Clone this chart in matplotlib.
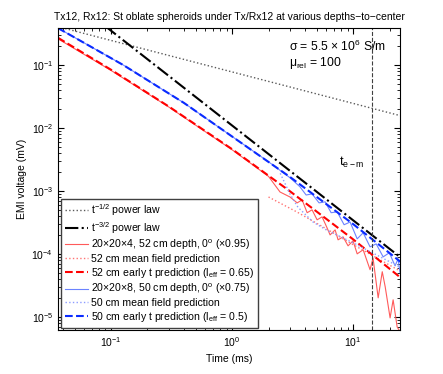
import numpy as np
from matplotlib import pyplot as plt

plt.rcParams['font.family'] = ['Liberation Sans', 'DejaVu Sans']
plt.rcParams['mathtext.default'] = 'regular'

# power law guide lines (end points)
t_pow = [0.0365, 24.4]
v_half = [0.406, 0.0157]
v_three_half = [1.60, 8.9e-5]

# 52 cm spheroid
t_red_early = [0.0365, 0.1, 0.3, 1, 3, 10, 25]
v_red_early = [0.27, 0.084, 0.0219, 4.6e-3, 9.9e-4, 1.7e-4, 4.1e-5]
t_red_mf = [2.0, 3.45, 6.0, 10, 25]
v_red_mf = [8.0e-4, 4.6e-4, 2.5e-4, 1.4e-4, 5.2e-5]
t_red = [0.0365, 0.1, 0.3, 1, 2, 2.49, 3.01, 3.45, 3.79, 4.17, 4.58, 5.04, 5.54,
         6.09, 6.45, 7.10, 7.51, 8.26, 9.08, 9.98, 10.8, 12.1, 13.8, 14.6, 16.1,
         17.4, 18.4, 20.2, 21.4, 23.1, 24.4]
v_red = [0.26, 0.082, 0.0215, 4.5e-3, 1.7e-3, 9.6e-4, 8.0e-4, 6.45e-4, 7.2e-4,
         4.5e-4, 5.0e-4, 3.47e-4, 3.87e-4, 2.59e-4, 2.0e-4, 2.4e-4, 1.67e-4,
         1.86e-4, 1.34e-4, 1.61e-4, 1.0e-4, 1.16e-4, 5.6e-5, 8.6e-5, 2.0e-5,
         5.2e-5, 3.0e-5, 9.6e-6, 1.86e-5, 6.9e-6, 5.8e-6]

# 50 cm spheroid
t_blue_early = [0.0365, 0.126, 0.4, 0.91, 3, 10, 25]
v_blue_early = [0.385, 0.1, 0.025, 8.3e-3, 1.67e-3, 2.97e-4, 7.3e-5]
t_blue_mf = [2.5, 3.0, 3.5, 4.67, 6.0, 10, 25]
v_blue_mf = [1.9e-3, 9e-4, 5.5e-4, 3.2e-4, 2.4e-4, 1.5e-4, 6e-5]
t_blue = [0.0365, 0.126, 0.4, 0.91, 2, 3.02, 3.64, 4.09, 4.58, 5.23, 5.87, 6.58,
          7.38, 8.42, 9.44, 10.8, 12.1, 13.8, 15.5, 17.7, 19.9, 22.2, 23.5, 24.4]
v_blue = [0.385, 0.1, 0.025, 8.3e-3, 2.9e-3, 1.61e-3, 1.16e-3, 8.6e-4, 8.96e-4,
          6.45e-4, 6.7e-4, 4.5e-4, 4.65e-4, 2.9e-4, 3.2e-4, 1.73e-4, 2.16e-4,
          1.29e-4, 1.44e-4, 8.95e-5, 1.04e-4, 6.45e-5, 8.3e-5, 5.0e-5]

t_em = 14.3

fig = plt.figure(figsize=(4.43, 3.74), dpi=100)
ax = fig.add_axes([0.131, 0.118, 0.772, 0.807])

ax.loglog(t_pow, v_half, ':', color='0.35', lw=1, label='t$^{-1/2}$ power law')
ax.loglog(t_pow, v_three_half, '-.', color='k', lw=1.5, label='t$^{-3/2}$ power law')
ax.loglog(t_red, v_red, '-', color='#ff5a5a', lw=0.8,
          label='20×20×4, 52 cm depth, 0$^o$ (×0.95)')
ax.loglog(t_red_mf, v_red_mf, ':', color='#ff7373', lw=1,
          label='52 cm mean field prediction')
ax.loglog(t_red_early, v_red_early, '--', color='#ff0000', lw=1.5,
          label='52 cm early t prediction (l$_{eff}$ = 0.65)')
ax.loglog(t_blue, v_blue, '-', color='#6b83ff', lw=0.8,
          label='20×20×8, 50 cm depth, 0$^o$ (×0.75)')
ax.loglog(t_blue_mf, v_blue_mf, ':', color='#8c9cff', lw=1,
          label='50 cm mean field prediction')
ax.loglog(t_blue_early, v_blue_early, '--', color='#0a2bff', lw=1.5,
          label='50 cm early t prediction (l$_{eff}$ = 0.5)')
ax.axvline(t_em, ls='--', color='0.25', lw=0.8)

ax.set_xlim(0.0365, 24.4)
ax.set_ylim(6.2e-6, 0.386)
ax.tick_params(which='both', direction='in', top=True, right=True, labelsize=7.5)
ax.tick_params(which='major', length=4)
ax.tick_params(which='minor', length=2)

ax.set_title('Tx12, Rx12: St oblate spheroids under Tx/Rx12 at various depths−to−center',
             fontsize=7.5)
ax.set_xlabel('Time (ms)', fontsize=7.5)
ax.set_ylabel('EMI voltage (mV)', fontsize=7.5, labelpad=3)

ax.text(0.675, 0.94, 'σ = 5.5 × 10$^6$ S/m', transform=ax.transAxes,
        fontsize=8.7, va='center')
ax.text(0.675, 0.885, 'μ$_{rel}$ = 100', transform=ax.transAxes,
        fontsize=8.7, va='center')
ax.text(7.7, 2.8e-3, 't$_{e−m}$', fontsize=9, va='center')

leg = ax.legend(loc='lower left', bbox_to_anchor=(0.009, 0.007), borderaxespad=0,
                fontsize=7.6, fancybox=False, edgecolor='0.25', framealpha=1,
                handlelength=2.2, labelspacing=0.18, borderpad=0.35,
                handletextpad=0.3)
leg.get_frame().set_linewidth(1)

fig.savefig('out.png', dpi=100)
